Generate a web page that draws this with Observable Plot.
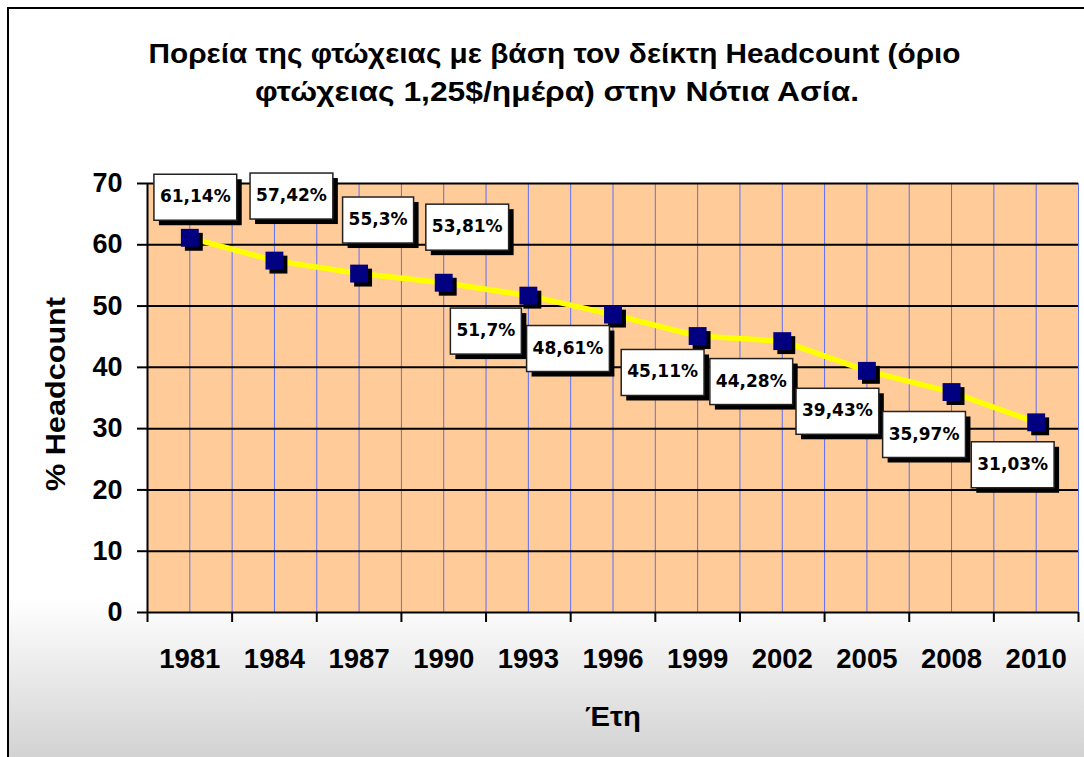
<!DOCTYPE html>
<html>
<head>
<meta charset="utf-8">
<script src="https://cdn.jsdelivr.net/npm/d3@7"></script>
<script src="https://cdn.jsdelivr.net/npm/@observablehq/plot@0.6"></script>
<style>
  html, body { margin: 0; padding: 0; width: 1084px; height: 757px; overflow: hidden; background: #fff; }
  #frame { position: absolute; left: 7px; top: 7px; width: 1200px; height: 800px; box-sizing: border-box;
           border: 2.5px solid #000;
           background: linear-gradient(to bottom, #ffffff 0%, #ffffff 74%, #d3d3d3 93.75%, #d3d3d3 100%); }
  #chart { position: absolute; left: 0; top: 0; }
</style>
</head>
<body>
<div id="frame"></div>
<div id="chart"></div>
<script>
// ---- data ----
const years = ["1981", "1984", "1987", "1990", "1993", "1996", "1999", "2002", "2005", "2008", "2010"];
const headcount = [61.14, 57.42, 55.3, 53.81, 51.7, 48.61, 45.11, 44.28, 39.43, 35.97, 31.03];
const valueLabels = ["61,14%", "57,42%", "55,3%", "53,81%", "51,7%", "48,61%", "45,11%", "44,28%", "39,43%", "35,97%", "31,03%"];
const yTicks = [0, 10, 20, 30, 40, 50, 60, 70];
const titleLines = ["Πορεία της φτώχειας με βάση τον δείκτη Headcount (όριο", "φτώχειας 1,25$/ημέρα) στην Νότια Ασία."];
const yTitle = "% Headcount";
const xTitle = "Έτη";

// ---- layout (pixel offsets of the data-label boxes from their points) ----
const labelOffsets = [[5.5, -41], [17, -65], [19, -54], [23.5, -56], [-42.5, 35], [-45, 33.5], [-35, 36], [-31, 40], [-29.5, 40], [-27.5, 42], [-23.5, 42]];

const data = years.map((year, i) => ({year, i, value: headcount[i], label: valueLabels[i]}));
const pos = d => d.i + 0.5;
const catCenters = years.map((y, i) => i + 0.5);
const catBounds = d3.range(0, years.length + 1);
const gridSteps = d3.range(1, 2 * years.length + 1).map(k => k / 2);

const FONT = "'Liberation Sans', Arial, sans-serif";

const chart = Plot.plot({
  width: 1084,
  height: 757,
  marginLeft: 147,
  marginRight: 6,
  marginTop: 183,
  marginBottom: 145,
  x: {type: "linear", domain: [0, years.length]},
  y: {domain: [0, 70]},
  style: {fontFamily: FONT, background: "transparent", color: "#000", overflow: "visible"},
  marks: [
    Plot.frame({fill: "#FFCC99", stroke: "none"}),
    Plot.gridX(gridSteps, {stroke: "#4a66ff", strokeOpacity: 0.9, strokeWidth: 1}),
    Plot.gridY(yTicks.slice(1), {stroke: "#000", strokeOpacity: 1, strokeWidth: 2}),
    Plot.ruleX([0], {stroke: "#000", strokeWidth: 2}),
    Plot.ruleY([0], {stroke: "#000", strokeWidth: 2}),
    Plot.axisY(yTicks, {tickSize: 10, tickPadding: 15, fontSize: 27, fontWeight: "bold", strokeWidth: 2, label: null}),
    Plot.axisX(catBounds, {tickSize: 10, tickFormat: () => "", strokeWidth: 2, label: null}),
    Plot.axisX(catCenters, {tickSize: 0, tickPadding: 36, tickFormat: d => years[Math.floor(d)], fontSize: 27.5, fontWeight: "bold", label: null}),
    Plot.line(data, {x: pos, y: "value", stroke: "#FFFF00", strokeWidth: 5.5}),
    Plot.dot(data, {x: pos, y: "value", symbol: "square", r: 10.1, fill: "#000", stroke: "none", dx: 4, dy: 4}),
    Plot.dot(data, {x: pos, y: "value", symbol: "square", r: 10.1, fill: "#000080", stroke: "none"}),
    ...labelOffsets.map(([dx, dy], i) => Plot.text([data[i]], {
      x: pos, y: "value", text: "label", dx, dy,
      fontSize: 17, fontWeight: "bold", fontFamily: "'DejaVu Sans', sans-serif", fill: "#000"
    })),
    Plot.text([titleLines[0]], {frameAnchor: "top", textAnchor: "middle", dx: -58.5, dy: -121, lineAnchor: "bottom", fontSize: 28, fontWeight: "bold"}),
    Plot.text([titleLines[1]], {frameAnchor: "top", textAnchor: "middle", dx: -56, dy: -83, lineAnchor: "bottom", fontSize: 28, fontWeight: "bold"}),
    Plot.text([yTitle], {frameAnchor: "left", textAnchor: "middle", lineAnchor: "middle", dx: -91, dy: -4, rotate: -90, fontSize: 28, fontWeight: "bold"}),
    Plot.text([xTitle], {frameAnchor: "bottom", textAnchor: "middle", lineAnchor: "bottom", dy: 113, fontSize: 28, fontWeight: "bold"})
  ]
});

document.getElementById("chart").appendChild(chart);

const allText = [...chart.querySelectorAll("text")];

// fit titles to the widths they occupy in the reference
const stretch = new Map([[titleLines[0], 812], [titleLines[1], 604], [yTitle, 194], [xTitle, 56]]);
allText.forEach(t => {
  const len = stretch.get(t.textContent);
  if (len) {
    t.setAttribute("textLength", len);
    t.setAttribute("lengthAdjust", "spacingAndGlyphs");
  }
});

// white boxes with black drop shadows behind the data labels
const ns = "http://www.w3.org/2000/svg";
allText.filter(t => valueLabels.includes(t.textContent)).forEach(t => {
  const bb = t.getBBox();
  const tr = t.getAttribute("transform");
  const w = bb.width + 12, h = 46;
  const cx = bb.x + bb.width / 2, cy = bb.y + bb.height / 2 + 1;
  const mk = (ox, oy, fill, stroke) => {
    const r = document.createElementNS(ns, "rect");
    r.setAttribute("x", cx - w / 2 + ox);
    r.setAttribute("y", cy - h / 2 + oy);
    r.setAttribute("width", w);
    r.setAttribute("height", h);
    r.setAttribute("fill", fill);
    r.setAttribute("stroke", stroke);
    r.setAttribute("stroke-width", stroke === "none" ? 0 : 1.5);
    if (tr) r.setAttribute("transform", tr);
    return r;
  };
  t.parentNode.insertBefore(mk(5, 5, "#000", "none"), t);
  t.parentNode.insertBefore(mk(0, 0, "#fff", "#222"), t);
});
</script>
</body>
</html>
